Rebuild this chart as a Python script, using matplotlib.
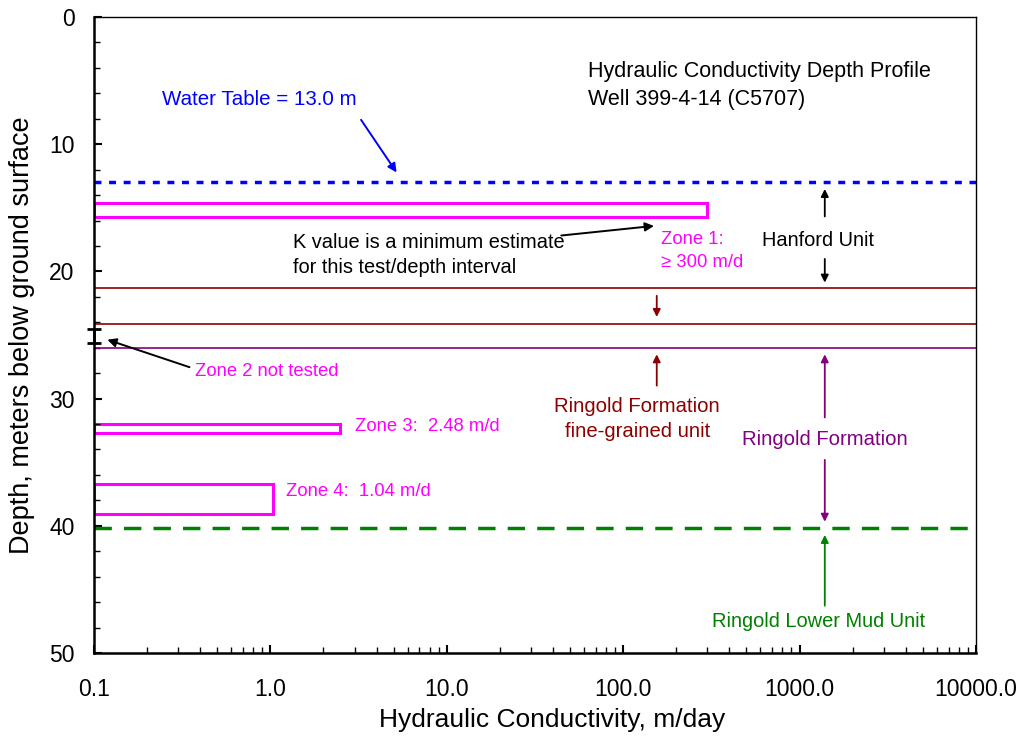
import matplotlib
matplotlib.use('Agg')
from matplotlib import pyplot as plt
from matplotlib.ticker import FixedLocator, MultipleLocator, LogLocator, NullFormatter

plt.rcParams['font.family'] = ['Liberation Sans', 'DejaVu Sans']

# tested zones: hydraulic conductivity (m/d) and depth interval (m)
zone_k = [300.0, 2.48, 1.04]
zone_top = [14.6, 32.0, 36.7]
zone_bottom = [15.7, 32.7, 39.1]
zone_labels = ['Zone 1:\n≥ 300 m/d', 'Zone 3:  2.48 m/d', 'Zone 4:  1.04 m/d']

# zone 2 interval (not tested)
zone2_top, zone2_bottom = 24.5, 25.6

# contacts, m below ground surface
water_table = 13.0
hanford_base = 21.3
fine_base = 24.1
ringold_top = 26.0
mud_top = 40.2

x_ticks = [0.1, 1, 10, 100, 1000, 10000]
x_tick_labels = ['0.1', '1.0', '10.0', '100.0', '1000.0', '10000.0']
y_ticks = [0, 10, 20, 30, 40, 50]

magenta = '#FF00FF'
brown = '#8B0000'
purple = '#800080'
green = '#008000'
blue = '#0000FF'

fig = plt.figure(figsize=(10.23, 7.41), dpi=100)
ax = fig.add_axes([0.0919, 0.1188, 0.8621, 0.8582])
ax.set_xscale('log')
ax.set_xlim(0.1, 10000)
ax.set_ylim(50, 0)

# horizons
ax.axhline(water_table, color=blue, lw=2.5, ls=(0, (2, 2.2)))
ax.axhline(hanford_base, color=brown, lw=1.2)
ax.axhline(fine_base, color=brown, lw=1.2)
ax.axhline(ringold_top, color=purple, lw=1.2)
ax.axhline(mud_top, color=green, lw=2.5, ls=(0, (5, 3.5)))

# zone boxes
for k, top, bot in zip(zone_k, zone_top, zone_bottom):
    ax.barh((top + bot) / 2, k - 0.1, height=bot - top, left=0.1,
            facecolor='none', edgecolor=magenta, lw=2.2)

ax.errorbar([0.1], [(zone2_top + zone2_bottom) / 2], yerr=[(zone2_bottom - zone2_top) / 2],
            color='black', lw=2, capsize=5, capthick=2, clip_on=False, zorder=5)

arrow = dict(arrowstyle='-|>', lw=1.4, mutation_scale=13)
unit_arrow = dict(arrowstyle='-|>', lw=1.3, mutation_scale=11)

# zone labels
ax.text(164, 18.4, zone_labels[0], color=magenta, fontsize=13.3, va='center', linespacing=1.5)
ax.text(3.02, 32.2, zone_labels[1], color=magenta, fontsize=13.3, va='center')
ax.text(1.225, 37.3, zone_labels[2], color=magenta, fontsize=13.3, va='center')
ax.text(0.374, 27.9, 'Zone 2 not tested', color=magenta, fontsize=13.3, va='center')
ax.annotate('', xy=(0.115, 25.3), xytext=(0.36, 27.6), arrowprops=dict(arrow, color='black'))

# water table label
ax.text(0.243, 6.5, 'Water Table = 13.0 m', color=blue, fontsize=14.8, va='center')
ax.annotate('', xy=(5.3, 12.4), xytext=(3.2, 7.9), arrowprops=dict(arrow, color=blue))

# minimum estimate note
ax.text(1.34, 18.7, 'K value is a minimum estimate\nfor this test/depth interval',
        fontsize=14.4, va='center', linespacing=1.45)
ax.annotate('', xy=(155, 16.4), xytext=(43, 17.2), arrowprops=dict(arrow, color='black'))

# title block
ax.text(63, 5.4, 'Hydraulic Conductivity Depth Profile\nWell 399-4-14 (C5707)',
        fontsize=15.5, va='center', linespacing=1.42)

# unit arrows
unit_x = 1390
ax.annotate('', xy=(unit_x, water_table + 0.3), xytext=(unit_x, 15.9),
            arrowprops=dict(unit_arrow, color='black'))
ax.annotate('', xy=(unit_x, hanford_base - 0.2), xytext=(unit_x, 18.8),
            arrowprops=dict(unit_arrow, color='black'))
ax.text(1271, 17.6, 'Hanford Unit', fontsize=14.4, ha='center', va='center')

fine_x = 155
ax.annotate('', xy=(fine_x, fine_base - 0.3), xytext=(fine_x, 21.7),
            arrowprops=dict(unit_arrow, color=brown))
ax.annotate('', xy=(fine_x, ringold_top + 0.3), xytext=(fine_x, 29.2),
            arrowprops=dict(unit_arrow, color=brown))
ax.text(120, 31.6, 'Ringold Formation\nfine-grained unit', color=brown,
        fontsize=14.6, ha='center', va='center', linespacing=1.45)

ax.annotate('', xy=(unit_x, ringold_top + 0.3), xytext=(unit_x, 31.7),
            arrowprops=dict(unit_arrow, color=purple))
ax.annotate('', xy=(unit_x, mud_top - 0.3), xytext=(unit_x, 34.6),
            arrowprops=dict(unit_arrow, color=purple))
ax.text(unit_x, 33.25, 'Ringold Formation', color=purple, fontsize=14.6, ha='center', va='center')

ax.annotate('', xy=(unit_x, mud_top + 0.3), xytext=(unit_x, 46.5),
            arrowprops=dict(unit_arrow, color=green))
ax.text(1283, 47.5, 'Ringold Lower Mud Unit', color=green, fontsize=14.4,
        ha='center', va='center')

# axes styling
ax.xaxis.set_major_locator(FixedLocator(x_ticks))
ax.set_xticklabels(x_tick_labels)
ax.xaxis.set_minor_locator(LogLocator(base=10, subs=range(2, 10)))
ax.xaxis.set_minor_formatter(NullFormatter())
ax.yaxis.set_major_locator(FixedLocator(y_ticks))
ax.yaxis.set_minor_locator(MultipleLocator(2))
ax.tick_params(which='both', direction='in', top=False, right=False, labelsize=16.5)
ax.tick_params(which='major', length=6, width=1.5)
ax.tick_params(which='minor', length=4, width=1.0)
ax.tick_params(axis='x', pad=18)
ax.tick_params(axis='y', pad=14)
for side in ['left', 'bottom']:
    ax.spines[side].set_linewidth(1.8)
for side in ['top', 'right']:
    ax.spines[side].set_linewidth(1.0)

ax.set_xlabel('Hydraulic Conductivity, m/day', fontsize=19, labelpad=5, x=0.52)
ax.set_ylabel('Depth, meters below ground surface', fontsize=19.5, labelpad=10)

fig.savefig('out.png', dpi=100)
